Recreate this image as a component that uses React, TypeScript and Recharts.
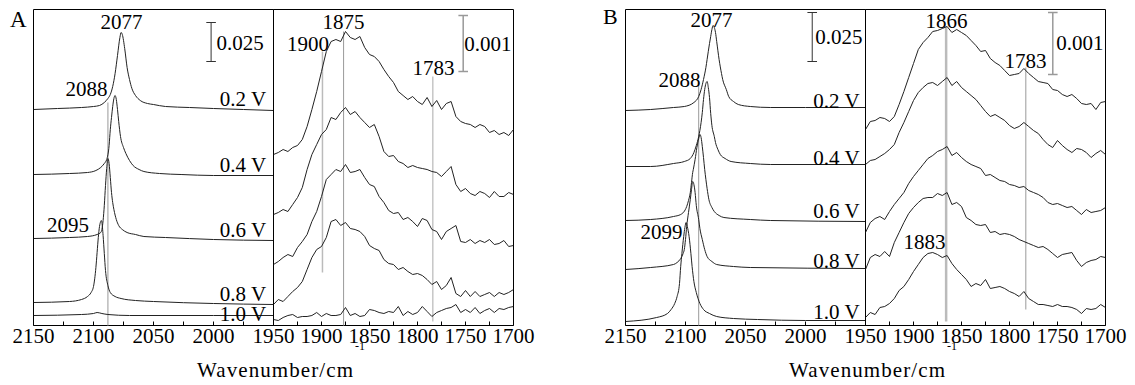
import { LineChart, Line, XAxis, YAxis, ReferenceLine, ReferenceDot, ReferenceArea } from 'recharts';

const FONT = '"Liberation Serif", "Times New Roman", serif';

type Pair = [number, number];

// 2150-1950 window: [wavenumber, stacked absorbance (a.u.)], denser near the CO peaks
const A_L_02: Pair[] = [[2150, 216], [2130, 217], [2110, 218], [2100, 219], [2095, 220], [2091, 223], [2088, 227], [2086, 231], [2084, 239], [2082, 252], [2080, 270], [2078, 288], [2077, 293], [2076, 291], [2074, 277], [2072, 258], [2070, 246], [2068, 237], [2065, 230], [2061, 225], [2055, 222], [2050, 221], [2040, 219], [2020, 218], [2000, 217], [1975, 216], [1950, 215]];
const A_L_04: Pair[] = [[2150, 151], [2120, 152], [2105, 153], [2098, 155], [2094, 158], [2091, 162], [2089, 166], [2087, 180], [2086, 196], [2085, 208], [2084, 219], [2083, 227], [2082, 230], [2081, 226], [2080, 216], [2079, 204], [2077.5, 189], [2075, 178], [2073, 172], [2070, 165], [2067, 160], [2062, 156], [2058, 154], [2045, 152], [2027, 151], [2000, 150], [1950, 150]];
const A_L_06: Pair[] = [[2150, 87], [2120, 88], [2105, 89], [2097, 91], [2094, 93], [2093, 96], [2092, 105], [2091, 120], [2090, 140], [2089, 157], [2088, 167], [2087, 162], [2086, 148], [2085, 133], [2084, 123], [2083, 116], [2081, 106], [2079, 100], [2076, 96], [2072, 93], [2065, 91], [2058, 89], [2040, 88], [2000, 86], [1950, 85]];
const A_L_08: Pair[] = [[2150, 23], [2120, 24], [2110, 26], [2105, 29], [2102, 33], [2100, 39], [2098, 58], [2097, 73], [2096, 88], [2095, 99], [2094, 104], [2093.5, 105], [2093, 103], [2092, 90], [2091, 72], [2090, 55], [2088, 40], [2086, 33], [2082, 29], [2077, 27], [2065, 25], [2050, 24], [2000, 22], [1950, 21]];
const A_L_10: Pair[] = [[2150, 10], [2110, 11], [2100, 12], [2097, 13], [2093, 12], [2088, 11], [2070, 10], [2000, 10], [1950, 10]];

const B_L_02: Pair[] = [[2150, 215], [2129, 216], [2110, 218], [2101, 219], [2093, 223], [2089, 229], [2087, 236], [2085, 246], [2083, 258], [2082, 266], [2080, 282], [2079, 289], [2078, 296], [2077, 300], [2076, 298], [2075, 293], [2074, 284], [2072, 266], [2070, 252], [2069, 246], [2066, 236], [2064, 229], [2060, 224], [2056, 221], [2046, 219], [2029, 218], [2000, 218], [1950, 218]];
const B_L_04: Pair[] = [[2150, 159], [2129, 159], [2110, 162], [2101, 164], [2096, 167], [2093, 173], [2091, 180], [2089, 189], [2087, 203], [2086, 213], [2085, 226], [2084, 236], [2083, 242], [2082, 244], [2081, 238], [2080, 228], [2079, 212], [2078, 200], [2076, 189], [2075, 183], [2073, 176], [2071, 171], [2067, 167], [2062, 164], [2046, 162], [2029, 161], [1950, 161]];
const B_L_06: Pair[] = [[2150, 105], [2129, 106], [2110, 109], [2104, 111], [2099, 119], [2097.5, 125], [2096, 133], [2095, 143], [2094, 153], [2093.5, 156], [2092, 166], [2090.5, 178], [2089, 187], [2088, 191], [2087, 188], [2086, 179], [2085, 168], [2084, 156], [2083, 146], [2082, 137], [2080.5, 126], [2078, 118], [2076, 114], [2072, 110], [2068, 108], [2046, 106], [2029, 105], [1950, 104]];
const B_L_08: Pair[] = [[2150, 56], [2129, 58], [2110, 61], [2107, 63], [2104, 67], [2102, 72], [2101, 76], [2100, 86], [2099, 99], [2097.5, 113], [2096, 126], [2095, 136], [2094, 144], [2093, 141], [2092, 133], [2091, 120], [2089, 106], [2088, 97], [2086, 86], [2084, 76], [2082, 69], [2078, 64], [2074, 61], [2060, 59], [2046, 58], [1950, 57]];
const B_L_10: Pair[] = [[2150, 4], [2124, 8], [2115, 12], [2112, 16], [2109, 22], [2107, 29], [2105, 42], [2104, 59], [2103, 72], [2101.5, 89], [2100.5, 98], [2099.5, 103], [2098.5, 99], [2097, 89], [2095.5, 72], [2094.5, 59], [2093, 44], [2091, 33], [2088, 22], [2085, 16], [2080, 12], [2074, 9], [2060, 7], [2040, 6], [2000, 5], [1950, 5]];

// 1950-1700 window, common 5 cm-1 grid
const WN_R = [1950, 1945, 1940, 1935, 1930, 1925, 1920, 1915, 1910, 1905, 1900, 1895, 1890, 1885, 1880, 1875, 1870, 1865, 1860, 1855, 1850, 1845, 1840, 1835, 1830, 1825, 1820, 1815, 1810, 1805, 1800, 1795, 1790, 1785, 1780, 1775, 1770, 1765, 1760, 1755, 1750, 1745, 1740, 1735, 1730, 1725, 1720, 1715, 1710, 1705, 1700];

const A_R_02 = [171, 173, 176, 174, 178, 180, 186, 199, 216, 234, 254, 274, 284, 286, 284, 294, 288, 286, 289, 278, 271, 269, 264, 256, 249, 243, 234, 230, 226, 229, 224, 221, 228, 219, 225, 216, 222, 224, 209, 204, 202, 201, 198, 201, 199, 193, 195, 191, 193, 190, 196];
const A_R_04 = [111, 113, 116, 114, 121, 128, 138, 156, 171, 181, 191, 196, 208, 206, 213, 218, 211, 214, 208, 203, 198, 201, 189, 174, 169, 170, 164, 162, 158, 160, 158, 157, 156, 154, 153, 149, 154, 159, 141, 134, 137, 132, 130, 134, 132, 128, 134, 129, 129, 133, 131];
const A_R_06 = [61, 64, 68, 71, 69, 78, 84, 91, 104, 114, 129, 146, 151, 156, 154, 161, 153, 154, 156, 148, 141, 139, 129, 123, 115, 112, 113, 106, 108, 104, 99, 107, 105, 96, 94, 86, 94, 97, 100, 84, 83, 86, 82, 85, 83, 86, 81, 82, 85, 79, 80];
const A_R_08 = [21, 26, 24, 29, 34, 38, 44, 56, 68, 76, 79, 88, 104, 106, 100, 103, 97, 96, 94, 89, 80, 77, 75, 66, 62, 61, 56, 58, 54, 51, 52, 50, 46, 41, 44, 36, 40, 48, 32, 29, 35, 29, 34, 29, 31, 33, 29, 33, 31, 33, 36];
const A_R_10 = [6, 5, 8, 10, 11, 8, 9, 9, 10, 13, 9, 12, 10, 10, 11, 18, 10, 12, 9, 10, 16, 15, 13, 12, 14, 13, 19, 10, 14, 11, 13, 19, 14, 9, 13, 15, 17, 18, 21, 13, 16, 13, 18, 12, 15, 17, 13, 17, 16, 18, 19];

const B_R_02 = [196, 204, 205, 208, 207, 204, 209, 221, 234, 248, 262, 276, 283, 288, 294, 295, 297, 299, 293, 296, 293, 290, 285, 280, 274, 275, 267, 263, 260, 255, 250, 251, 252, 257, 252, 248, 244, 243, 242, 236, 235, 231, 229, 231, 227, 222, 221, 222, 216, 223, 224];
const B_R_04 = [161, 165, 166, 169, 172, 176, 181, 193, 203, 214, 225, 233, 238, 242, 243, 240, 244, 248, 240, 244, 238, 234, 230, 226, 220, 214, 209, 211, 208, 205, 200, 197, 199, 203, 199, 195, 192, 186, 181, 178, 185, 180, 176, 173, 177, 176, 173, 168, 172, 175, 171];
const B_R_06 = [93, 103, 107, 109, 106, 114, 121, 127, 133, 142, 149, 155, 161, 167, 170, 174, 176, 179, 170, 173, 168, 164, 161, 159, 157, 150, 151, 148, 145, 144, 141, 140, 138, 139, 135, 133, 131, 128, 123, 121, 122, 120, 118, 119, 115, 111, 116, 113, 114, 115, 118];
const B_R_08 = [56, 68, 71, 69, 74, 69, 83, 93, 103, 112, 118, 123, 127, 128, 128, 132, 130, 133, 121, 123, 119, 108, 105, 101, 100, 101, 93, 94, 91, 92, 91, 89, 86, 84, 82, 80, 78, 79, 76, 72, 68, 71, 72, 73, 65, 59, 63, 65, 66, 69, 68];
const B_R_10 = [8, 13, 11, 18, 19, 22, 27, 35, 39, 46, 54, 61, 68, 72, 73, 71, 68, 70, 62, 56, 51, 46, 39, 42, 40, 46, 37, 38, 39, 37, 34, 32, 29, 34, 27, 24, 21, 21, 20, 19, 21, 19, 19, 18, 16, 12, 17, 16, 17, 21, 18];

const TICKS_L = [2150, 2125, 2100, 2075, 2050, 2025, 2000, 1975, 1950];
const TICKS_R = [1950, 1925, 1900, 1875, 1850, 1825, 1800, 1775, 1750, 1725, 1700];

interface Note { w: number; h: number; text: string }
interface Mark { w: number; lo: number; hi: number; color: string; width: number }
interface Bar { w: number; lo: number; hi: number; cap: number; color: string; width: number }

const NOTES_AL: Note[] = [
  { w: 2076.7, h: 304, text: '2077' }, { w: 2105.8, h: 236.5, text: '2088' }, { w: 2121.3, h: 100.5, text: '2095' },
  { w: 1975.4, h: 226.5, text: '0.2 V' }, { w: 1975.4, h: 161, text: '0.4 V' }, { w: 1975.4, h: 96, text: '0.6 V' },
  { w: 1975.4, h: 32, text: '0.8 V' }, { w: 1975.4, h: 12, text: '1.0 V' }, { w: 1977.9, h: 283, text: '0.025' },
];
const NOTES_AR: Note[] = [
  { w: 1877.1, h: 303.5, text: '1875' }, { w: 1914.1, h: 281.5, text: '1900' },
  { w: 1783.3, h: 257.5, text: '1783' }, { w: 1726.6, h: 281.5, text: '0.001' },
];
const NOTES_BL: Note[] = [
  { w: 2078.3, h: 305.5, text: '2077' }, { w: 2105, h: 245.5, text: '2088' }, { w: 2120, h: 93.5, text: '2099' },
  { w: 1974.2, h: 224.5, text: '0.2 V' }, { w: 1974.2, h: 167.5, text: '0.4 V' }, { w: 1974.2, h: 114.5, text: '0.6 V' },
  { w: 1974.2, h: 64.5, text: '0.8 V' }, { w: 1974.2, h: 13.5, text: '1.0 V' }, { w: 1972.1, h: 288.5, text: '0.025' },
];
const NOTES_BR: Note[] = [
  { w: 1865.6, h: 304.5, text: '1866' }, { w: 1783.3, h: 264.5, text: '1783' },
  { w: 1888.5, h: 83.5, text: '1883' }, { w: 1726.6, h: 282.5, text: '0.001' },
];

const MARKS_AL: Mark[] = [{ w: 2088, lo: 0, hi: 223, color: '#aaa', width: 1.2 }];
const MARKS_AR: Mark[] = [
  { w: 1899, lo: 53, hi: 274, color: '#bbb', width: 1.5 },
  { w: 1877, lo: 0, hi: 294, color: '#999', width: 1 },
  { w: 1784, lo: 4, hi: 249, color: '#aaa', width: 1 },
];
const MARKS_BL: Mark[] = [{ w: 2089, lo: 0, hi: 243, color: '#999', width: 1 }];
const MARKS_BR: Mark[] = [
  { w: 1866, lo: 4, hi: 299, color: '#bbb', width: 2.5 },
  { w: 1783, lo: 16, hi: 258, color: '#999', width: 1 },
];

const BAR_AL: Bar = { w: 2002, lo: 264, hi: 303, cap: 4, color: '#333', width: 1 };
const BAR_AR: Bar = { w: 1752.4, lo: 254, hi: 310, cap: 5, color: '#999', width: 1.5 };
const BAR_BL: Bar = { w: 1994.4, lo: 264, hi: 313, cap: 4, color: '#333', width: 1 };
const BAR_BR: Bar = { w: 1754.9, lo: 251, hi: 313, cap: 5, color: '#999', width: 1.5 };

const toRows = (p: Pair[]) => p.map(([w, h]) => ({ w, h }));
const gridRows = (v: number[]) => WN_R.map((w, i) => ({ w, h: v[i] }));

const tickRenderer = (skip: number[]) => (p: any) => {
  const v = p.payload.value;
  const show = v % 50 === 0 && !skip.includes(v);
  return (
    <g>
      <line x1={p.x} x2={p.x} y1={p.y} y2={p.y - 4} stroke="#000" />
      {show && (
        <text x={p.x} y={p.y + 17} textAnchor="middle" fontSize={21} fontFamily={FONT} fill="#000">{v}</text>
      )}
    </g>
  );
};

function Panel({
  left, domain, ticks, skip, series, curve, notes, marks, bar,
}: {
  left: number; domain: [number, number]; ticks: number[]; skip: number[];
  series: Array<Array<{ w: number; h: number }>>; curve: 'monotone' | 'linear';
  notes: Note[]; marks: Mark[]; bar: Bar;
}) {
  return (
    <div style={{ position: 'absolute', left, top: 0 }}>
      <LineChart width={300} height={385} margin={{ top: 9.5, right: 29.5, bottom: 29.5, left: 30.5 }}>
        <XAxis dataKey="w" type="number" domain={domain} reversed ticks={ticks} interval={0}
          tickSize={0} tickMargin={0} axisLine={false} tickLine={false} height={30}
          tick={tickRenderer(skip)} allowDataOverflow />
        <YAxis type="number" domain={[0, 316]} hide allowDataOverflow />
        <ReferenceArea x1={domain[0]} x2={domain[1]} y1={0} y2={316} fill="none" stroke="#000" strokeWidth={1} ifOverflow="visible" />
        {marks.map((m, i) => (
          <ReferenceLine key={`m${i}`} segment={[{ x: m.w, y: m.lo }, { x: m.w, y: m.hi }]} stroke={m.color} strokeWidth={m.width} ifOverflow="visible" />
        ))}
        <ReferenceLine segment={[{ x: bar.w, y: bar.lo }, { x: bar.w, y: bar.hi }]} stroke={bar.color} strokeWidth={bar.width} />
        <ReferenceLine segment={[{ x: bar.w + bar.cap, y: bar.lo }, { x: bar.w - bar.cap, y: bar.lo }]} stroke={bar.color} strokeWidth={bar.width} />
        <ReferenceLine segment={[{ x: bar.w + bar.cap, y: bar.hi }, { x: bar.w - bar.cap, y: bar.hi }]} stroke={bar.color} strokeWidth={bar.width} />
        {series.map((s, i) => (
          <Line key={`s${i}`} data={s} dataKey="h" type={curve} stroke="#222" strokeWidth={1} dot={false} activeDot={false} isAnimationActive={false} />
        ))}
        {notes.map((n, i) => (
          <ReferenceDot key={`n${i}`} x={n.w} y={n.h} r={0} fill="none" stroke="none" ifOverflow="visible"
            label={{ value: n.text, position: 'center', fontSize: 21, fill: '#000', fontFamily: FONT }} />
        ))}
      </LineChart>
    </div>
  );
}

function AxisTitle({ x }: { x: number }) {
  return (
    <g>
      <text x={x} y={377} fontSize={21} textLength={156} lengthAdjust="spacing">Wavenumber/cm</text>
      <text x={x + 158} y={350} fontSize={12}>-1</text>
    </g>
  );
}

export default function App() {
  return (
    <div style={{ position: 'absolute', left: 0, top: 0, width: 1135, height: 385, background: '#fff' }}>
      <Panel left={3} domain={[1950, 2150]} ticks={TICKS_L} skip={[1950]} curve="monotone"
        series={[A_L_02, A_L_04, A_L_06, A_L_08, A_L_10].map(toRows)} notes={NOTES_AL} marks={MARKS_AL} bar={BAR_AL} />
      <Panel left={243} domain={[1700, 1950]} ticks={TICKS_R} skip={[]} curve="linear"
        series={[A_R_02, A_R_04, A_R_06, A_R_08, A_R_10].map(gridRows)} notes={NOTES_AR} marks={MARKS_AR} bar={BAR_AR} />
      <Panel left={595} domain={[1950, 2150]} ticks={TICKS_L} skip={[1950]} curve="monotone"
        series={[B_L_02, B_L_04, B_L_06, B_L_08, B_L_10].map(toRows)} notes={NOTES_BL} marks={MARKS_BL} bar={BAR_BL} />
      <Panel left={835} domain={[1700, 1950]} ticks={TICKS_R} skip={[]} curve="linear"
        series={[B_R_02, B_R_04, B_R_06, B_R_08, B_R_10].map(gridRows)} notes={NOTES_BR} marks={MARKS_BR} bar={BAR_BR} />
      <svg width={1135} height={385} style={{ position: 'absolute', left: 0, top: 0, pointerEvents: 'none' }} fontFamily={FONT} fill="#000">
        <text x={10} y={27} fontSize={23}>A</text>
        <text x={603} y={24} fontSize={22}>B</text>
        <AxisTitle x={197} />
        <AxisTitle x={789} />
      </svg>
    </div>
  );
}
